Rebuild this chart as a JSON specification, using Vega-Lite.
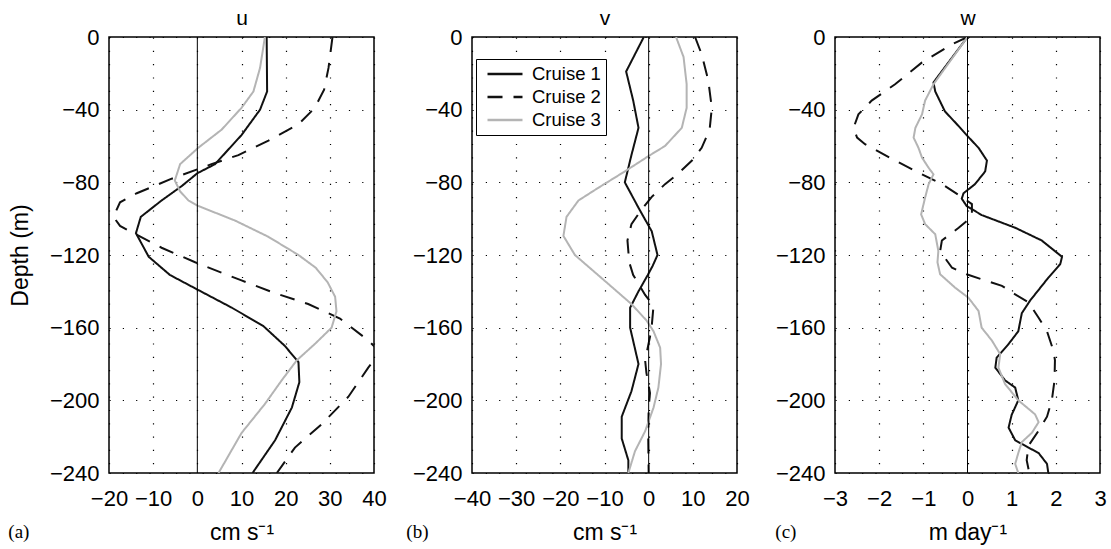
{
  "$schema": "https://vega.github.io/schema/vega-lite/v6.json",
  "padding": {"left": 7, "top": 6, "right": 5, "bottom": 2},
  "background": "#ffffff",
  "config": {
    "font": "Liberation Sans",
    "view": {"stroke": "#000000", "strokeWidth": 1.5},
    "axis": {
      "labelFont": "Liberation Sans", "labelFontSize": 22, "labelColor": "#000000", "labelOverlap": false, "labelFlush": false,
      "titleFont": "Liberation Sans", "titleFontSize": 23, "titleFontWeight": "normal", "titleColor": "#000000",
      "domain": false, "ticks": false, "grid": true, "gridColor": "#000000", "gridDash": [1.2, 12.1], "gridWidth": 1.2, "gridOpacity": 1
    },
    "title": {"font": "Liberation Serif", "fontSize": 19, "fontWeight": "normal", "color": "#000000"}
  },
  "datasets": {
    "u": [
      {"cruise": "Cruise 1", "depth": 0, "val": 15.7},
      {"cruise": "Cruise 1", "depth": -30, "val": 15.8},
      {"cruise": "Cruise 1", "depth": -40, "val": 14.2},
      {"cruise": "Cruise 1", "depth": -54, "val": 10},
      {"cruise": "Cruise 1", "depth": -70, "val": 4},
      {"cruise": "Cruise 1", "depth": -75, "val": 0},
      {"cruise": "Cruise 1", "depth": -82, "val": -3.5},
      {"cruise": "Cruise 1", "depth": -90, "val": -8.1},
      {"cruise": "Cruise 1", "depth": -99, "val": -12.8},
      {"cruise": "Cruise 1", "depth": -108, "val": -13.9},
      {"cruise": "Cruise 1", "depth": -121, "val": -11},
      {"cruise": "Cruise 1", "depth": -131, "val": -6.2},
      {"cruise": "Cruise 1", "depth": -139, "val": 0},
      {"cruise": "Cruise 1", "depth": -149, "val": 7.8},
      {"cruise": "Cruise 1", "depth": -159, "val": 14.9},
      {"cruise": "Cruise 1", "depth": -170, "val": 19.8},
      {"cruise": "Cruise 1", "depth": -179, "val": 22.9},
      {"cruise": "Cruise 1", "depth": -190, "val": 23.1},
      {"cruise": "Cruise 1", "depth": -204, "val": 21.4},
      {"cruise": "Cruise 1", "depth": -222, "val": 17.6},
      {"cruise": "Cruise 1", "depth": -240, "val": 12.5},
      {"cruise": "Cruise 2", "depth": 0, "val": 30.6},
      {"cruise": "Cruise 2", "depth": -17, "val": 29.7},
      {"cruise": "Cruise 2", "depth": -29, "val": 28.7},
      {"cruise": "Cruise 2", "depth": -39, "val": 26.6},
      {"cruise": "Cruise 2", "depth": -48, "val": 22.9},
      {"cruise": "Cruise 2", "depth": -57, "val": 16.1},
      {"cruise": "Cruise 2", "depth": -65, "val": 9.3},
      {"cruise": "Cruise 2", "depth": -70, "val": 3.2},
      {"cruise": "Cruise 2", "depth": -78, "val": -5.8},
      {"cruise": "Cruise 2", "depth": -86, "val": -13.7},
      {"cruise": "Cruise 2", "depth": -91, "val": -17.5},
      {"cruise": "Cruise 2", "depth": -99, "val": -19},
      {"cruise": "Cruise 2", "depth": -104, "val": -17.5},
      {"cruise": "Cruise 2", "depth": -107, "val": -15.2},
      {"cruise": "Cruise 2", "depth": -116, "val": -8.1},
      {"cruise": "Cruise 2", "depth": -124, "val": -0.5},
      {"cruise": "Cruise 2", "depth": -134, "val": 10},
      {"cruise": "Cruise 2", "depth": -141, "val": 17.6},
      {"cruise": "Cruise 2", "depth": -147, "val": 25.1},
      {"cruise": "Cruise 2", "depth": -155, "val": 32.3},
      {"cruise": "Cruise 2", "depth": -167, "val": 38.7},
      {"cruise": "Cruise 2", "depth": -172, "val": 40.8},
      {"cruise": "Cruise 2", "depth": -178, "val": 40},
      {"cruise": "Cruise 2", "depth": -182, "val": 38.7},
      {"cruise": "Cruise 2", "depth": -198, "val": 34.2},
      {"cruise": "Cruise 2", "depth": -213, "val": 28.2},
      {"cruise": "Cruise 2", "depth": -226, "val": 22.1},
      {"cruise": "Cruise 2", "depth": -240, "val": 18},
      {"cruise": "Cruise 3", "depth": 0, "val": 15.3},
      {"cruise": "Cruise 3", "depth": -17, "val": 14.2},
      {"cruise": "Cruise 3", "depth": -30, "val": 12.7},
      {"cruise": "Cruise 3", "depth": -39, "val": 10},
      {"cruise": "Cruise 3", "depth": -51, "val": 5.5},
      {"cruise": "Cruise 3", "depth": -61, "val": 0.2},
      {"cruise": "Cruise 3", "depth": -70, "val": -3.9},
      {"cruise": "Cruise 3", "depth": -79, "val": -5.1},
      {"cruise": "Cruise 3", "depth": -85, "val": -3.9},
      {"cruise": "Cruise 3", "depth": -90, "val": -2},
      {"cruise": "Cruise 3", "depth": -93, "val": 0.2},
      {"cruise": "Cruise 3", "depth": -101, "val": 8.5},
      {"cruise": "Cruise 3", "depth": -110, "val": 16.1},
      {"cruise": "Cruise 3", "depth": -120, "val": 22.9},
      {"cruise": "Cruise 3", "depth": -127, "val": 26.8},
      {"cruise": "Cruise 3", "depth": -135, "val": 29.5},
      {"cruise": "Cruise 3", "depth": -143, "val": 31.2},
      {"cruise": "Cruise 3", "depth": -151, "val": 31.5},
      {"cruise": "Cruise 3", "depth": -160, "val": 30.4},
      {"cruise": "Cruise 3", "depth": -169, "val": 26.6},
      {"cruise": "Cruise 3", "depth": -178, "val": 22.5},
      {"cruise": "Cruise 3", "depth": -189, "val": 19.1},
      {"cruise": "Cruise 3", "depth": -202, "val": 15.3},
      {"cruise": "Cruise 3", "depth": -218, "val": 10},
      {"cruise": "Cruise 3", "depth": -240, "val": 4.8}
    ],
    "v": [
      {"cruise": "Cruise 1", "depth": 0, "val": -1.1},
      {"cruise": "Cruise 1", "depth": -19, "val": -5.1},
      {"cruise": "Cruise 1", "depth": -35, "val": -3.5},
      {"cruise": "Cruise 1", "depth": -50, "val": -2.3},
      {"cruise": "Cruise 1", "depth": -65, "val": -3.9},
      {"cruise": "Cruise 1", "depth": -80, "val": -5.4},
      {"cruise": "Cruise 1", "depth": -94, "val": -2.3},
      {"cruise": "Cruise 1", "depth": -107, "val": 0.7},
      {"cruise": "Cruise 1", "depth": -120, "val": 2},
      {"cruise": "Cruise 1", "depth": -126, "val": 0.9},
      {"cruise": "Cruise 1", "depth": -131, "val": -0.2},
      {"cruise": "Cruise 1", "depth": -140, "val": -2.3},
      {"cruise": "Cruise 1", "depth": -149, "val": -4.2},
      {"cruise": "Cruise 1", "depth": -160, "val": -4.2},
      {"cruise": "Cruise 1", "depth": -180, "val": -2.3},
      {"cruise": "Cruise 1", "depth": -195, "val": -3.9},
      {"cruise": "Cruise 1", "depth": -209, "val": -6.1},
      {"cruise": "Cruise 1", "depth": -221, "val": -6.1},
      {"cruise": "Cruise 1", "depth": -233, "val": -4.6},
      {"cruise": "Cruise 1", "depth": -240, "val": -4.6},
      {"cruise": "Cruise 2", "depth": 0, "val": 10.5},
      {"cruise": "Cruise 2", "depth": -9.5, "val": 12},
      {"cruise": "Cruise 2", "depth": -24, "val": 13.5},
      {"cruise": "Cruise 2", "depth": -39, "val": 14.3},
      {"cruise": "Cruise 2", "depth": -51, "val": 13.8},
      {"cruise": "Cruise 2", "depth": -61, "val": 12},
      {"cruise": "Cruise 2", "depth": -68, "val": 9.8},
      {"cruise": "Cruise 2", "depth": -76, "val": 6.3},
      {"cruise": "Cruise 2", "depth": -81, "val": 3.7},
      {"cruise": "Cruise 2", "depth": -88, "val": 0.7},
      {"cruise": "Cruise 2", "depth": -95, "val": -1.6},
      {"cruise": "Cruise 2", "depth": -103, "val": -3.9},
      {"cruise": "Cruise 2", "depth": -112, "val": -4.8},
      {"cruise": "Cruise 2", "depth": -124, "val": -4.4},
      {"cruise": "Cruise 2", "depth": -131, "val": -3.5},
      {"cruise": "Cruise 2", "depth": -142, "val": -0.8},
      {"cruise": "Cruise 2", "depth": -148, "val": 1.1},
      {"cruise": "Cruise 2", "depth": -159, "val": 0.7},
      {"cruise": "Cruise 2", "depth": -165, "val": 0.3},
      {"cruise": "Cruise 2", "depth": -178, "val": -0.8},
      {"cruise": "Cruise 2", "depth": -185, "val": -0.5},
      {"cruise": "Cruise 2", "depth": -196, "val": 0.3},
      {"cruise": "Cruise 2", "depth": -204, "val": 0},
      {"cruise": "Cruise 2", "depth": -220, "val": -0.1},
      {"cruise": "Cruise 2", "depth": -240, "val": 0},
      {"cruise": "Cruise 3", "depth": 0, "val": 6.2},
      {"cruise": "Cruise 3", "depth": -11, "val": 7.9},
      {"cruise": "Cruise 3", "depth": -26, "val": 8.6},
      {"cruise": "Cruise 3", "depth": -39, "val": 8.6},
      {"cruise": "Cruise 3", "depth": -50, "val": 7.5},
      {"cruise": "Cruise 3", "depth": -60, "val": 3.7},
      {"cruise": "Cruise 3", "depth": -65.5, "val": 0},
      {"cruise": "Cruise 3", "depth": -74, "val": -5.4},
      {"cruise": "Cruise 3", "depth": -83, "val": -11.4},
      {"cruise": "Cruise 3", "depth": -90, "val": -15.9},
      {"cruise": "Cruise 3", "depth": -99, "val": -18.6},
      {"cruise": "Cruise 3", "depth": -109.5, "val": -19.3},
      {"cruise": "Cruise 3", "depth": -120, "val": -16.7},
      {"cruise": "Cruise 3", "depth": -128, "val": -12.9},
      {"cruise": "Cruise 3", "depth": -136, "val": -9.1},
      {"cruise": "Cruise 3", "depth": -147, "val": -3.9},
      {"cruise": "Cruise 3", "depth": -156, "val": -0.5},
      {"cruise": "Cruise 3", "depth": -162, "val": 1.1},
      {"cruise": "Cruise 3", "depth": -171, "val": 2.6},
      {"cruise": "Cruise 3", "depth": -180, "val": 2.8},
      {"cruise": "Cruise 3", "depth": -193, "val": 2.2},
      {"cruise": "Cruise 3", "depth": -204, "val": 1.1},
      {"cruise": "Cruise 3", "depth": -217, "val": -0.8},
      {"cruise": "Cruise 3", "depth": -228, "val": -3.1},
      {"cruise": "Cruise 3", "depth": -240, "val": -4.6}
    ],
    "w": [
      {"cruise": "Cruise 1", "depth": 0, "val": 0},
      {"cruise": "Cruise 1", "depth": -25, "val": -0.77},
      {"cruise": "Cruise 1", "depth": -30, "val": -0.73},
      {"cruise": "Cruise 1", "depth": -41, "val": -0.51},
      {"cruise": "Cruise 1", "depth": -48, "val": -0.24},
      {"cruise": "Cruise 1", "depth": -54, "val": -0.02},
      {"cruise": "Cruise 1", "depth": -61, "val": 0.25},
      {"cruise": "Cruise 1", "depth": -68, "val": 0.44},
      {"cruise": "Cruise 1", "depth": -74, "val": 0.4},
      {"cruise": "Cruise 1", "depth": -81, "val": 0.17},
      {"cruise": "Cruise 1", "depth": -86, "val": -0.09},
      {"cruise": "Cruise 1", "depth": -89, "val": -0.13},
      {"cruise": "Cruise 1", "depth": -93, "val": -0.02},
      {"cruise": "Cruise 1", "depth": -98, "val": 0.32},
      {"cruise": "Cruise 1", "depth": -105, "val": 1.08},
      {"cruise": "Cruise 1", "depth": -112, "val": 1.68},
      {"cruise": "Cruise 1", "depth": -121, "val": 2.14},
      {"cruise": "Cruise 1", "depth": -125, "val": 2.1},
      {"cruise": "Cruise 1", "depth": -132.5, "val": 1.83},
      {"cruise": "Cruise 1", "depth": -145, "val": 1.42},
      {"cruise": "Cruise 1", "depth": -152, "val": 1.23},
      {"cruise": "Cruise 1", "depth": -162, "val": 1.15},
      {"cruise": "Cruise 1", "depth": -169, "val": 0.93},
      {"cruise": "Cruise 1", "depth": -176.5, "val": 0.66},
      {"cruise": "Cruise 1", "depth": -182, "val": 0.63},
      {"cruise": "Cruise 1", "depth": -189, "val": 0.85},
      {"cruise": "Cruise 1", "depth": -193, "val": 1.08},
      {"cruise": "Cruise 1", "depth": -200, "val": 1.15},
      {"cruise": "Cruise 1", "depth": -208, "val": 1.0},
      {"cruise": "Cruise 1", "depth": -215, "val": 0.93},
      {"cruise": "Cruise 1", "depth": -222, "val": 1.08},
      {"cruise": "Cruise 1", "depth": -226, "val": 1.38},
      {"cruise": "Cruise 1", "depth": -229, "val": 1.61},
      {"cruise": "Cruise 1", "depth": -235, "val": 1.8},
      {"cruise": "Cruise 1", "depth": -240, "val": 1.83},
      {"cruise": "Cruise 2", "depth": 0, "val": 0},
      {"cruise": "Cruise 2", "depth": -4, "val": -0.35},
      {"cruise": "Cruise 2", "depth": -14, "val": -1.03},
      {"cruise": "Cruise 2", "depth": -26, "val": -1.64},
      {"cruise": "Cruise 2", "depth": -35, "val": -2.17},
      {"cruise": "Cruise 2", "depth": -42.6, "val": -2.47},
      {"cruise": "Cruise 2", "depth": -50, "val": -2.58},
      {"cruise": "Cruise 2", "depth": -55.4, "val": -2.5},
      {"cruise": "Cruise 2", "depth": -59, "val": -2.32},
      {"cruise": "Cruise 2", "depth": -63, "val": -2.02},
      {"cruise": "Cruise 2", "depth": -69, "val": -1.56},
      {"cruise": "Cruise 2", "depth": -75.6, "val": -1.03},
      {"cruise": "Cruise 2", "depth": -81, "val": -0.58},
      {"cruise": "Cruise 2", "depth": -88, "val": -0.13},
      {"cruise": "Cruise 2", "depth": -92, "val": 0.1},
      {"cruise": "Cruise 2", "depth": -99, "val": 0.1},
      {"cruise": "Cruise 2", "depth": -105, "val": -0.2},
      {"cruise": "Cruise 2", "depth": -112, "val": -0.58},
      {"cruise": "Cruise 2", "depth": -118, "val": -0.62},
      {"cruise": "Cruise 2", "depth": -127, "val": -0.35},
      {"cruise": "Cruise 2", "depth": -130.6, "val": -0.02},
      {"cruise": "Cruise 2", "depth": -133.4, "val": 0.32},
      {"cruise": "Cruise 2", "depth": -137, "val": 0.78},
      {"cruise": "Cruise 2", "depth": -141.7, "val": 1.08},
      {"cruise": "Cruise 2", "depth": -146, "val": 1.38},
      {"cruise": "Cruise 2", "depth": -154.5, "val": 1.61},
      {"cruise": "Cruise 2", "depth": -162, "val": 1.8},
      {"cruise": "Cruise 2", "depth": -173, "val": 1.95},
      {"cruise": "Cruise 2", "depth": -178, "val": 1.98},
      {"cruise": "Cruise 2", "depth": -189, "val": 1.97},
      {"cruise": "Cruise 2", "depth": -200, "val": 1.91},
      {"cruise": "Cruise 2", "depth": -209, "val": 1.8},
      {"cruise": "Cruise 2", "depth": -216.7, "val": 1.61},
      {"cruise": "Cruise 2", "depth": -225, "val": 1.38},
      {"cruise": "Cruise 2", "depth": -233, "val": 1.34},
      {"cruise": "Cruise 2", "depth": -240, "val": 1.4},
      {"cruise": "Cruise 3", "depth": 0, "val": 0},
      {"cruise": "Cruise 3", "depth": -26, "val": -0.77},
      {"cruise": "Cruise 3", "depth": -35, "val": -0.96},
      {"cruise": "Cruise 3", "depth": -42.6, "val": -1.03},
      {"cruise": "Cruise 3", "depth": -50, "val": -1.18},
      {"cruise": "Cruise 3", "depth": -55.4, "val": -1.22},
      {"cruise": "Cruise 3", "depth": -61, "val": -1.11},
      {"cruise": "Cruise 3", "depth": -66.4, "val": -1.03},
      {"cruise": "Cruise 3", "depth": -72, "val": -0.88},
      {"cruise": "Cruise 3", "depth": -75.6, "val": -0.77},
      {"cruise": "Cruise 3", "depth": -81, "val": -0.88},
      {"cruise": "Cruise 3", "depth": -88.4, "val": -0.96},
      {"cruise": "Cruise 3", "depth": -97.6, "val": -1.05},
      {"cruise": "Cruise 3", "depth": -103, "val": -0.96},
      {"cruise": "Cruise 3", "depth": -108.6, "val": -0.73},
      {"cruise": "Cruise 3", "depth": -117.8, "val": -0.66},
      {"cruise": "Cruise 3", "depth": -124, "val": -0.68},
      {"cruise": "Cruise 3", "depth": -130.6, "val": -0.62},
      {"cruise": "Cruise 3", "depth": -138, "val": -0.28},
      {"cruise": "Cruise 3", "depth": -143.5, "val": 0.02},
      {"cruise": "Cruise 3", "depth": -150.8, "val": 0.25},
      {"cruise": "Cruise 3", "depth": -160, "val": 0.32},
      {"cruise": "Cruise 3", "depth": -167, "val": 0.55},
      {"cruise": "Cruise 3", "depth": -174.6, "val": 0.74},
      {"cruise": "Cruise 3", "depth": -182, "val": 0.7},
      {"cruise": "Cruise 3", "depth": -191, "val": 0.85},
      {"cruise": "Cruise 3", "depth": -200, "val": 1.15},
      {"cruise": "Cruise 3", "depth": -207.7, "val": 1.53},
      {"cruise": "Cruise 3", "depth": -212, "val": 1.61},
      {"cruise": "Cruise 3", "depth": -217.8, "val": 1.46},
      {"cruise": "Cruise 3", "depth": -223, "val": 1.23},
      {"cruise": "Cruise 3", "depth": -229, "val": 1.15},
      {"cruise": "Cruise 3", "depth": -235, "val": 1.08},
      {"cruise": "Cruise 3", "depth": -240, "val": 1.15}
    ]
  },
  "bounds": "flush",
  "spacing": 98,
  "resolve": {"scale": {"color": "independent", "strokeDash": "independent"}, "legend": {"color": "independent", "strokeDash": "independent"}},
  "hconcat": [
    {
      "width": 265, "height": 436,
      "title": {"text": "(a)", "orient": "bottom", "anchor": "start", "frame": "group", "dx": -100.7, "dy": -25},
      "resolve": {"axis": {"x": "independent"}},
      "layer": [
        {
          "data": {"name": "u"},
          "mark": {"type": "line", "clip": true, "strokeWidth": 2},
          "encoding": {
            "x": {"field": "val", "type": "quantitative", "scale": {"domain": [-20, 40], "nice": false, "zero": false},
                  "axis": {"values": [-20, -10, 0, 10, 20, 30, 40], "title": "cm s⁻¹", "labelPadding": 15, "titlePadding": 12}},
            "y": {"field": "depth", "type": "quantitative", "scale": {"domain": [-240, 0], "nice": false},
                  "axis": {"values": [-240, -200, -160, -120, -80, -40, 0], "title": "Depth (m)", "labelPadding": 10, "titlePadding": 17}},
            "color": {"field": "cruise", "type": "nominal", "scale": {"domain": ["Cruise 1", "Cruise 2", "Cruise 3"], "range": ["#111111", "#111111", "#b4b4b4"]}, "legend": null},
            "strokeDash": {"field": "cruise", "type": "nominal", "scale": {"domain": ["Cruise 1", "Cruise 2", "Cruise 3"], "range": [[1, 0], [15, 11], [1, 0]]}, "legend": null},
            "order": {"field": "depth", "type": "quantitative", "sort": "descending"}
          }
        },
        {
          "data": {"values": [{}]},
          "mark": {"type": "rule", "color": "#000000", "strokeWidth": 1},
          "encoding": {
            "x": {"datum": 0, "type": "quantitative", "scale": {"domain": [-20, 40], "nice": false, "zero": false},
                  "axis": {"orient": "top", "title": "u", "titleFontSize": 21, "labels": false, "grid": false, "ticks": false, "domain": false, "titlePadding": 9}}
          }
        }
      ]
    },
    {
      "width": 265, "height": 436,
      "title": {"text": "(b)", "orient": "bottom", "anchor": "start", "frame": "group", "dx": -65.7, "dy": -25},
      "resolve": {"axis": {"x": "independent"}},
      "layer": [
        {
          "data": {"name": "v"},
          "mark": {"type": "line", "clip": true, "strokeWidth": 2},
          "encoding": {
            "x": {"field": "val", "type": "quantitative", "scale": {"domain": [-40, 20], "nice": false, "zero": false},
                  "axis": {"values": [-40, -30, -20, -10, 0, 10, 20], "title": "cm s⁻¹", "labelPadding": 15, "titlePadding": 12}},
            "y": {"field": "depth", "type": "quantitative", "scale": {"domain": [-240, 0], "nice": false},
                  "axis": {"values": [-240, -200, -160, -120, -80, -40, 0], "title": null, "labelPadding": 10}},
            "color": {"field": "cruise", "type": "nominal", "scale": {"domain": ["Cruise 1", "Cruise 2", "Cruise 3"], "range": ["#111111", "#111111", "#b4b4b4"]},
                      "legend": {"title": null, "orient": "none", "legendX": 4, "legendY": 22, "symbolType": "M-2,0H2", "symbolSize": 306, "symbolStrokeWidth": 2.3, "symbolOffset": 14,
                                 "labelFont": "Liberation Sans", "labelFontSize": 18.5, "labelColor": "#000000", "labelOffset": 17, "rowPadding": 3,
                                 "fillColor": "#ffffff", "strokeColor": "#000000", "padding": 5}},
            "strokeDash": {"field": "cruise", "type": "nominal", "scale": {"domain": ["Cruise 1", "Cruise 2", "Cruise 3"], "range": [[1, 0], [15, 11], [1, 0]]},
                      "legend": {"title": null, "orient": "none", "legendX": 4, "legendY": 22, "symbolType": "M-2,0H2", "symbolSize": 306, "symbolStrokeWidth": 2.3, "symbolOffset": 14,
                                 "labelFont": "Liberation Sans", "labelFontSize": 18.5, "labelColor": "#000000", "labelOffset": 17, "rowPadding": 3,
                                 "fillColor": "#ffffff", "strokeColor": "#000000", "padding": 5}},
            "order": {"field": "depth", "type": "quantitative", "sort": "descending"}
          }
        },
        {
          "data": {"values": [{}]},
          "mark": {"type": "rule", "color": "#000000", "strokeWidth": 1},
          "encoding": {
            "x": {"datum": 0, "type": "quantitative", "scale": {"domain": [-40, 20], "nice": false, "zero": false},
                  "axis": {"orient": "top", "title": "v", "titleFontSize": 21, "labels": false, "grid": false, "ticks": false, "domain": false, "titlePadding": 9}}
          }
        }
      ]
    },
    {
      "width": 265, "height": 436,
      "title": {"text": "(c)", "orient": "bottom", "anchor": "start", "frame": "group", "dx": -59.7, "dy": -25},
      "resolve": {"axis": {"x": "independent"}},
      "layer": [
        {
          "data": {"name": "w"},
          "mark": {"type": "line", "clip": true, "strokeWidth": 2},
          "encoding": {
            "x": {"field": "val", "type": "quantitative", "scale": {"domain": [-3, 3], "nice": false, "zero": false},
                  "axis": {"values": [-3, -2, -1, 0, 1, 2, 3], "title": "m day⁻¹", "labelPadding": 15, "titlePadding": 12}},
            "y": {"field": "depth", "type": "quantitative", "scale": {"domain": [-240, 0], "nice": false},
                  "axis": {"values": [-240, -200, -160, -120, -80, -40, 0], "title": null, "labelPadding": 10}},
            "color": {"field": "cruise", "type": "nominal", "scale": {"domain": ["Cruise 1", "Cruise 2", "Cruise 3"], "range": ["#111111", "#111111", "#b4b4b4"]}, "legend": null},
            "strokeDash": {"field": "cruise", "type": "nominal", "scale": {"domain": ["Cruise 1", "Cruise 2", "Cruise 3"], "range": [[1, 0], [15, 11], [1, 0]]}, "legend": null},
            "order": {"field": "depth", "type": "quantitative", "sort": "descending"}
          }
        },
        {
          "data": {"values": [{}]},
          "mark": {"type": "rule", "color": "#000000", "strokeWidth": 1},
          "encoding": {
            "x": {"datum": 0, "type": "quantitative", "scale": {"domain": [-3, 3], "nice": false, "zero": false},
                  "axis": {"orient": "top", "title": "w", "titleFontSize": 21, "labels": false, "grid": false, "ticks": false, "domain": false, "titlePadding": 9}}
          }
        }
      ]
    }
  ]
}
